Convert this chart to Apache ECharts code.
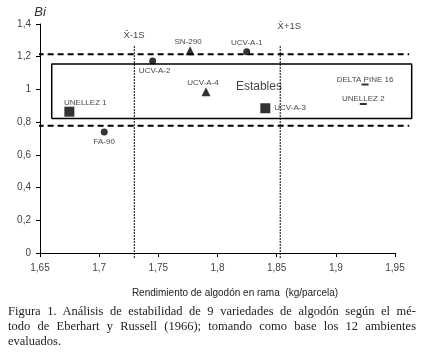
<!DOCTYPE html>
<html>
<head>
<meta charset="utf-8">
<script src="https://cdn.jsdelivr.net/npm/echarts@6/dist/echarts.min.js"></script>
<style>
  html, body { margin: 0; padding: 0; background: #fff; }
  #wrap { position: relative; width: 422px; height: 359px; overflow: hidden; }
  #chart { position: absolute; left: 0; top: 0; width: 422px; height: 359px; }
  #caption { position: absolute; left: 8px; top: 304px; width: 408px;
    font-family: "Liberation Serif", "DejaVu Serif", serif; font-size: 12.5px; line-height: 15px; color: #222; }
  #caption div { white-space: nowrap; }
  #caption .j { text-align: justify; text-align-last: justify; }
</style>
</head>
<body>
<div id="wrap">
  <div id="chart"></div>
  <div id="caption">
    <div class="j">Figura 1. Análisis de estabilidad de 9 variedades de algodón según el mé-</div>
    <div class="j">todo de Eberhart y Russell (1966); tomando como base los 12 ambientes</div>
    <div>evaluados.</div>
  </div>
</div>
<script>
  // varieties: name, rendimiento (x), Bi (y)
  var circleNames = ['FA-90', 'UCV-A-2', 'UCV-A-1'];
  var circleX = [1.7043, 1.7452, 1.8247];
  var circleY = [0.740, 1.174, 1.231];

  var triangleNames = ['SN-290', 'UCV-A-4'];
  var triangleX = [1.7768, 1.7903];
  var triangleY = [1.237, 0.986];

  var squareNames = ['UNELLEZ 1', 'UCV-A-3'];
  var squareX = [1.6748, 1.8404];
  var squareY = [0.864, 0.885];

  var dashNames = ['DELTA PINE 16', 'UNELLEZ 2'];
  var dashX = [1.9247, 1.9232];
  var dashY = [1.030, 0.911];

  // reference lines
  var meanLines = [1.7297, 1.853];        // X-1S, X+1S
  var meanLineNames = ['X\u0304-1S', 'X\u0304+1S'];
  var meanLineSpan = [-0.031, 1.272];
  var meanLabelY = [1.333, 1.388];
  var meanLabelX = [1.7295, 1.8607];
  var biLines = [1.215, 0.778];
  var biLineSpan = [1.648, 1.962];
  var boxX = [1.6599, 1.9641];
  var boxY = [0.823, 1.155];
  var stableText = 'Estables';
  var stablePos = [1.835, 1.015];

  var xTicks = [1.65, 1.95, 0.05];
  var yTicks = [0, 1.4, 0.2];
  // wider hidden axes for the reference lines that run past the plot
  var xOver = [1.65, 1.97];
  var yOver = [-0.2, 1.4];

  // label placement per variety
  var labelPlace = {
    'FA-90': { position: 'bottom', distance: 2 },
    'UCV-A-2': { position: 'bottom', distance: 2, offset: [2, 0] },
    'UCV-A-1': { position: 'top', distance: 1 },
    'SN-290': { position: 'top', distance: 0, offset: [-2, 0] },
    'UCV-A-4': { position: 'top', distance: 0, offset: [-3, 0] },
    'UNELLEZ 1': { position: 'top', distance: 0, offset: [16, 0] },
    'UCV-A-3': { position: 'right', distance: 4 },
    'DELTA PINE 16': { position: 'top', distance: 0 },
    'UNELLEZ 2': { position: 'top', distance: 0 }
  };

  function fmt(v) {
    return String(Math.round(v * 100) / 100).replace('.', ',');
  }

  function points(names, xs, ys) {
    var out = [];
    for (var i = 0; i < names.length; i++) {
      var p = labelPlace[names[i]];
      out.push({
        name: names[i],
        value: [xs[i], ys[i]],
        label: {
          show: true,
          position: p.position,
          distance: p.distance,
          offset: p.offset || [0, 0],
          formatter: '{b}',
          fontSize: 8,
          color: '#111',
          fontFamily: 'Liberation Sans'
        }
      });
    }
    return out;
  }

  function scatter(name, symbol, size, data) {
    return {
      name: name,
      type: 'scatter',
      symbol: symbol,
      symbolSize: size,
      itemStyle: { color: '#000' },
      data: data,
      z: 5,
      silent: true
    };
  }

  function overLine(data, style) {
    return {
      type: 'line',
      xAxisIndex: 1,
      yAxisIndex: 1,
      clip: false,
      symbol: 'none',
      silent: true,
      lineStyle: style,
      data: data
    };
  }

  var series = [];

  // horizontal dashed lines
  for (var i = 0; i < biLines.length; i++) {
    series.push(overLine([[biLineSpan[0], biLines[i]], [biLineSpan[1], biLines[i]]],
      { color: '#000', width: 2, type: [6, 4] }));
  }

  // vertical dotted lines
  for (var j = 0; j < meanLines.length; j++) {
    series.push(overLine([[meanLines[j], meanLineSpan[0]], [meanLines[j], meanLineSpan[1]]],
      { color: '#000', width: 1, type: [2, 1] }));
  }

  // box of stable varieties
  series.push(overLine([[boxX[0], boxY[0]], [boxX[1], boxY[0]], [boxX[1], boxY[1]], [boxX[0], boxY[1]], [boxX[0], boxY[0]]],
    { color: '#000', width: 1.5 }));

  // text labels for reference lines and box
  var textData = [];
  for (var k = 0; k < meanLineNames.length; k++) {
    textData.push({ name: meanLineNames[k], value: [meanLabelX[k], meanLabelY[k]],
      label: { fontSize: 9.5 } });
  }
  textData.push({ name: stableText, value: stablePos, label: { fontSize: 12 } });
  series.push({
    type: 'scatter',
    xAxisIndex: 1,
    yAxisIndex: 1,
    symbolSize: 0,
    silent: true,
    clip: false,
    label: { show: true, position: 'inside', formatter: '{b}', color: '#111', fontFamily: 'Liberation Sans' },
    data: textData
  });

  series.push(scatter('circles', 'circle', 7, points(circleNames, circleX, circleY)));
  series.push(scatter('triangles', 'triangle', 9, points(triangleNames, triangleX, triangleY)));
  series.push(scatter('squares', 'rect', 10, points(squareNames, squareX, squareY)));
  series.push(scatter('dashes', 'rect', [7, 2], points(dashNames, dashX, dashY)));

  var chart = echarts.init(document.getElementById('chart'), null, { renderer: 'canvas' });

  // plot area: 1.65..1.95 over 355px, 0..1.4 over 229px
  var pxX = 355 / (xTicks[1] - xTicks[0]);
  var pxY = 229 / (yTicks[1] - yTicks[0]);

  var option = {
    animation: false,
    backgroundColor: '#fff',
    textStyle: { fontFamily: 'Liberation Sans' },
    grid: [
      { left: 40, right: 27, top: 24, bottom: 106 },
      { left: 40, top: 24,
        width: (xOver[1] - xOver[0]) * pxX,
        height: (yOver[1] - yOver[0]) * pxY }
    ],
    xAxis: [{
      type: 'value',
      gridIndex: 0,
      min: xTicks[0],
      max: xTicks[1],
      interval: xTicks[2],
      name: 'Rendimiento de algodón en rama  (kg/parcela)',
      nameLocation: 'middle',
      nameGap: 35,
      nameTextStyle: { fontSize: 10, color: '#222', padding: [0, 0, 0, 35] },
      axisLine: { lineStyle: { color: '#000', width: 1 } },
      axisTick: { show: true, length: 4, lineStyle: { color: '#000' } },
      axisLabel: { fontSize: 10, color: '#444', margin: 10, formatter: fmt },
      splitLine: { show: false }
    }, {
      type: 'value',
      gridIndex: 1,
      min: xOver[0],
      max: xOver[1],
      show: false
    }],
    yAxis: [{
      type: 'value',
      gridIndex: 0,
      min: yTicks[0],
      max: yTicks[1],
      interval: yTicks[2],
      name: 'Bi',
      nameGap: 5,
      nameTextStyle: { fontSize: 13, fontStyle: 'italic', color: '#333', align: 'center' },
      axisLine: { show: true, lineStyle: { color: '#000', width: 1 } },
      axisTick: { show: true, length: 4, lineStyle: { color: '#000' } },
      axisLabel: { fontSize: 10, color: '#444', margin: 9, formatter: fmt },
      splitLine: { show: false }
    }, {
      type: 'value',
      gridIndex: 1,
      min: yOver[0],
      max: yOver[1],
      show: false
    }],
    series: series
  };

  chart.setOption(option);
</script>
</body>
</html>
